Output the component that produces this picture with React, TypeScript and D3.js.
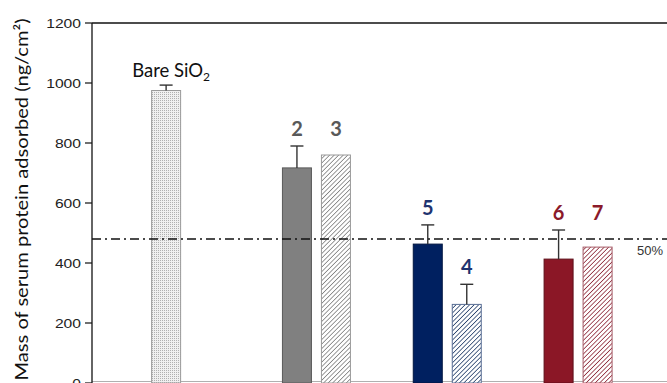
import React from "react";
import * as d3 from "d3";

// Serum protein adsorption per surface (ng/cm²)
const groups = ["g1", "g2", "g3", "g4"];
const slots = ["left", "right"];
const barIds = ["Bare", "2", "3", "5", "4", "6", "7"];
const barGroup = ["g1", "g2", "g2", "g3", "g3", "g4", "g4"];
const barSlot = ["left", "left", "right", "left", "right", "left", "right"];
const barValues = [975, 717, 760, 463, 262, 413, 453];
const barErrors = [18, 73, 0, 64, 67, 97, 0];
const barLabels = ["", "2", "3", "5", "4", "6", "7"];
const sharedLabelGroups = ["g2", "g4"];
const yTicks = [0, 200, 400, 600, 800, 1000, 1200];
const referenceValue = 480;
const referenceLabel = "50%";

const W = 667;
const H = 383;

const styles: Record<string, { fill: string; stroke: string; label: string }> = {
  Bare: { fill: "url(#dots)", stroke: "#9a9a9a", label: "#222" },
  "2": { fill: "#808080", stroke: "#5a5a5a", label: "#595959" },
  "3": { fill: "url(#hatchGray)", stroke: "#9a9a9a", label: "#595959" },
  "5": { fill: "#002060", stroke: "#001540", label: "#1f3470" },
  "4": { fill: "url(#hatchNavy)", stroke: "#5a6f95", label: "#1f3470" },
  "6": { fill: "#8b1726", stroke: "#5e0f1a", label: "#8b1a2a" },
  "7": { fill: "url(#hatchRed)", stroke: "#a55a66", label: "#8b1a2a" },
};

export default function App() {
  const y = d3.scaleLinear().domain([0, 1200]).range([383, 23]);
  const x = d3.scaleBand<string>().domain(groups).range([120.2, 643.5]).padding(0);
  const inner = d3
    .scaleBand<string>()
    .domain(slots)
    .range([-34, 34])
    .paddingInner(10 / 39)
    .paddingOuter(0);

  const axisX = 92;
  const bars = barIds.map((id, i) => {
    const cx = (x(barGroup[i]) ?? 0) + x.bandwidth() / 2;
    const x0 = cx + (inner(barSlot[i]) ?? 0);
    return {
      id,
      i,
      x0,
      w: inner.bandwidth(),
      value: barValues[i],
      err: barErrors[i],
      group: barGroup[i],
      label: barLabels[i],
    };
  });

  const groupTop = (g: string) =>
    d3.max(bars.filter((b) => b.group === g), (b) => b.value + b.err) ?? 0;

  const hatch = (id: string, color: string) => (
    <pattern id={id} patternUnits="userSpaceOnUse" width={3.2} height={3.2} patternTransform="rotate(45)">
      <rect width={3.2} height={3.2} fill="#fff" />
      <line x1={0} y1={0} x2={0} y2={3.2} stroke={color} strokeWidth={1.5} />
    </pattern>
  );

  return (
    <div style={{ position: "absolute", left: 0, top: 0 }}>
      <svg width={W} height={H} style={{ display: "block", background: "#fff" }}>
        <defs>
          <pattern id="dots" patternUnits="userSpaceOnUse" width={2} height={2}>
            <rect width={2} height={2} fill="#f0f0f0" />
            <rect width={1} height={1} fill="#b0b0b0" />
          </pattern>
          {hatch("hatchGray", "#7a7a7a")}
          {hatch("hatchNavy", "#203a66")}
          {hatch("hatchRed", "#8b2232")}
        </defs>

        {/* frame */}
        <line x1={axisX} x2={W} y1={y(1200)} y2={y(1200)} stroke="#111" strokeWidth={1.3} />
        <line x1={axisX} x2={W} y1={381.5} y2={381.5} stroke="#b0b0b0" strokeWidth={1.2} />

        {/* bars */}
        {bars.map((b) => (
          <rect
            key={b.id}
            x={b.x0}
            y={y(b.value)}
            width={b.w}
            height={y(0) - y(b.value)}
            fill={styles[b.id].fill}
            stroke={styles[b.id].stroke}
            strokeWidth={1}
          />
        ))}

        {/* error bars */}
        {bars
          .filter((b) => b.err > 0)
          .map((b) => {
            const cx = b.x0 + b.w / 2;
            return (
              <g key={"e" + b.id} stroke="#333" strokeWidth={1.4}>
                <line x1={cx} x2={cx} y1={y(b.value)} y2={y(b.value + b.err)} />
                <line x1={cx - 6.5} x2={cx + 6.5} y1={y(b.value + b.err)} y2={y(b.value + b.err)} />
              </g>
            );
          })}

        {/* 50% reference line */}
        <line
          x1={axisX}
          x2={W}
          y1={y(referenceValue)}
          y2={y(referenceValue)}
          stroke="#111"
          strokeWidth={1.5}
          strokeDasharray="9,4,2,4"
        />
        <text
          x={637}
          y={y(referenceValue) + 16}
          fontFamily="'Liberation Sans', Arial, sans-serif"
          fontSize={13}
          fill="#333"
        >
          {referenceLabel}
        </text>

        {/* bar labels */}
        {bars
          .filter((b) => b.label)
          .map((b) => {
            const top = sharedLabelGroups.includes(b.group) ? groupTop(b.group) : b.value + b.err;
            return (
              <text
                key={"l" + b.id}
                x={b.x0 + b.w / 2}
                y={y(top) - 10}
                textAnchor="middle"
                fontFamily="Lato, 'Open Sans', sans-serif"
                fontWeight={700}
                fontSize={20}
                fill={styles[b.id].label}
              >
                {b.label}
              </text>
            );
          })}

        {/* Bare SiO2 label */}
        <text
          x={bars[0].x0 + bars[0].w / 2 + 5}
          y={77}
          textAnchor="middle"
          fontFamily="Lato, 'Open Sans', sans-serif"
          fontSize={18.5}
          fill="#111"
        >
          Bare SiO
          <tspan fontSize={12} dy={4}>
            2
          </tspan>
        </text>

        {/* y axis */}
        <line x1={axisX} x2={axisX} y1={y(1200)} y2={H} stroke="#111" strokeWidth={1.3} />
        {yTicks.map((t) => (
          <g key={t}>
            <line x1={axisX - 7} x2={axisX} y1={y(t)} y2={y(t)} stroke="#111" strokeWidth={1.2} />
            <text
              x={81}
              y={y(t) + 4.5}
              textAnchor="end"
              fontFamily="'Liberation Sans', Arial, sans-serif"
              fontSize={12.5}
              textLength={String(t).length * 8.7}
              lengthAdjust="spacingAndGlyphs"
              fill="#222"
            >
              {t}
            </text>
          </g>
        ))}
        <text
          transform={`translate(28, ${(18 + 381) / 2}) rotate(-90)`}
          textAnchor="middle"
          fontFamily="Lato, 'Open Sans', sans-serif"
          fontSize={17.5}
          textLength={362}
          lengthAdjust="spacingAndGlyphs"
          fill="#111"
        >
          Mass of serum protein adsorbed (ng/cm²)
        </text>
      </svg>
    </div>
  );
}
